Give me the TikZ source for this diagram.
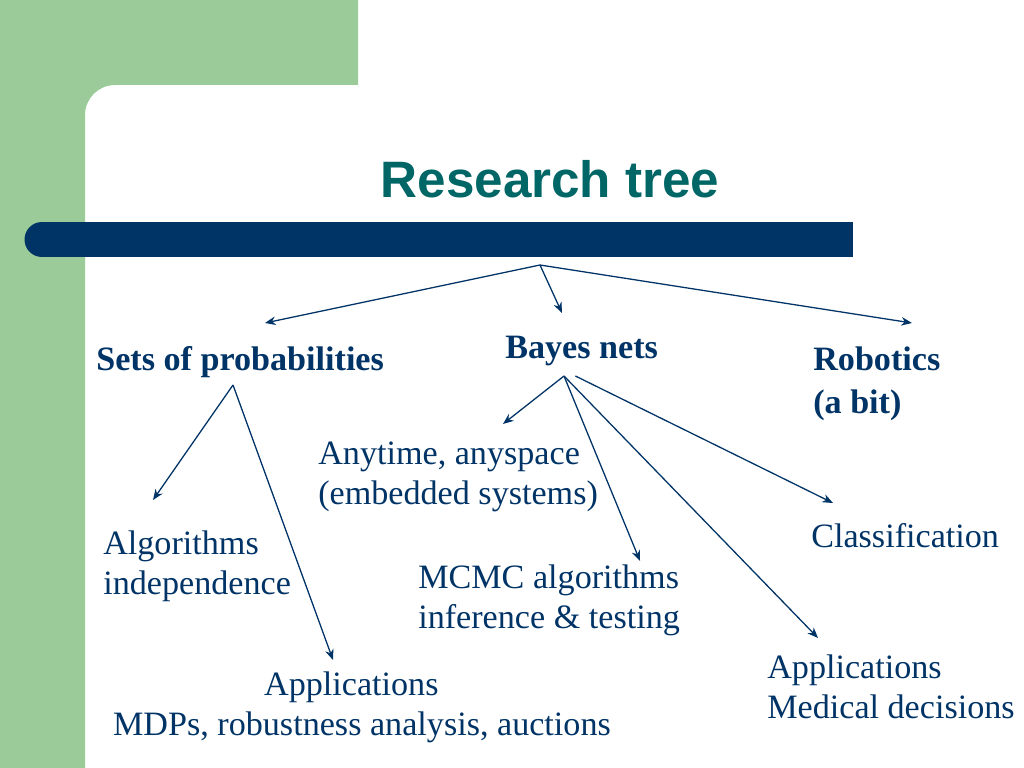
\documentclass[tikz,border=0pt]{standalone}
\usepackage{fontspec}
\setmainfont{Liberation Serif}
\newfontfamily\titlefont{Liberation Sans}
\usetikzlibrary{arrows.meta}

\definecolor{slideGreen}{RGB}{155,203,152}
\definecolor{barBlue}{RGB}{0,51,102}
\definecolor{titleTeal}{RGB}{0,102,102}
\definecolor{textBlue}{RGB}{0,51,102}

\begin{document}
\begin{tikzpicture}[
  x=0.703125pt, y=-0.703125pt,
  topic/.style={font=\fontsize{24}{30}\selectfont\bfseries, text=textBlue, inner sep=0pt, align=left, anchor=base west},
  leaf/.style={font=\fontsize{24}{28}\selectfont, text=textBlue, inner sep=0pt, align=left, anchor=base west},
  branch/.style={draw=barBlue, line width=0.9pt, -{Stealth[length=7.5pt, width=6pt]}},
  title/.style={font=\titlefont\fontsize{36}{40}\selectfont\bfseries, text=titleTeal, anchor=base}
]

% Slide background
\useasboundingbox (0,0) rectangle (1024,768);
\fill[white] (0,0) rectangle (1024,768);
\fill[slideGreen] (0,0) -- (358,0) -- (358,85) -- (115,85)
  arc[start angle=270, end angle=180, radius=30] -- (85,768) -- (0,768) -- cycle;

% Title bar
\fill[barBlue] (42,222) rectangle (853,257);
\fill[barBlue] (42,239.5) circle[radius=17.5];

% Title
\node[title] (title) at (550,198) {Research tree};

% Main topics (multi-line nodes sit on the baseline of their last line)
\node[topic] (sets) at (96,370) {Sets of probabilities};
\node[topic] (bayes) at (505,358) {Bayes nets};
\node[topic] (robotics) at (813,413) {Robotics\\(a bit)};

% Sub topics
\node[leaf] (anytime) at (318,504) {Anytime, anyspace\\(embedded systems)};
\node[leaf] (algo) at (103,594) {Algorithms\\independence};
\node[leaf] (mcmc) at (418,628) {MCMC algorithms\\inference \& testing};
\node[leaf] (classif) at (811,547) {Classification};
\node[leaf] (medical) at (767,718) {Applications\\Medical decisions};
\node[leaf, align=center, anchor=base] (mdps) at (362,735) {Applications\hspace*{15pt}\\MDPs, robustness analysis, auctions};

% Branch points and arrow ends
\coordinate (root) at (540,265);
\coordinate (setsFork) at (233,385);
\coordinate (bayesFork) at (564,376);
\coordinate (toSets) at (265,323);
\coordinate (toBayes) at (562,313);
\coordinate (toRobotics) at (912,323);
\coordinate (toAlgo) at (153,500);
\coordinate (toMdps) at (333,660);
\coordinate (toAnytime) at (503,424);
\coordinate (toMcmc) at (640,561);
\coordinate (toMedical) at (818,638);
\coordinate (toClassif) at (833,503);

% Tree arrows
\draw[branch] (root) -- (toSets);
\draw[branch] (root) -- (toBayes);
\draw[branch] (root) -- (toRobotics);
\draw[branch] (setsFork) -- (toAlgo);
\draw[branch] (setsFork) -- (toMdps);
\draw[branch] (bayesFork) -- (toAnytime);
\draw[branch] (bayesFork) -- (toMcmc);
\draw[branch] (bayesFork) -- (toMedical);
\draw[branch] ([xshift=8]bayesFork) -- (toClassif);

\end{tikzpicture}
\end{document}
